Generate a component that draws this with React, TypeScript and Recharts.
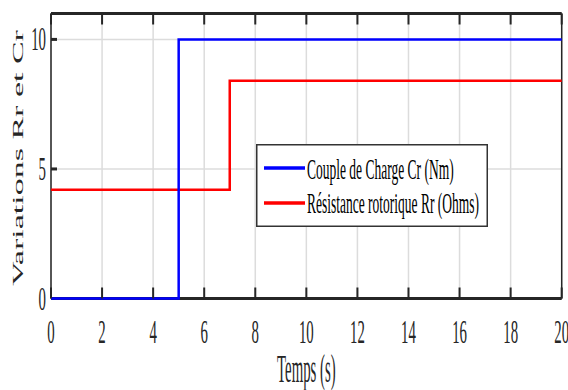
import { CartesianGrid, Legend, Line, LineChart, XAxis, YAxis } from 'recharts'

// step input signals (time in s)
const times = [0, 5, 7, 20]
const couple = [0, 10, 10, 10]
const resistance = [4.2, 4.2, 8.4, 8.4]

const xTicks = [0, 2, 4, 6, 8, 10, 12, 14, 16, 18, 20]
const yTicks = [0, 5, 10]

const series = [
  { key: 'cr', name: 'Couple de Charge Cr (Nm)', color: '#0000ff' },
  { key: 'rr', name: 'Résistance rotorique Rr (Ohms)', color: '#ff0000' },
]

const data = times.map((t, i) => ({ t, cr: couple[i], rr: resistance[i] }))

const FONT = '"Liberation Serif", "Times New Roman", serif'
const INK = '#262626'
const SX = 0.45 // the original figure is squeezed horizontally
const TICK_LEN = 11
const X_MARGIN = 33

// label below the axis + inward tick mark
function XTick({ x, y, payload }: any) {
  const axisY = y - X_MARGIN + TICK_LEN
  return (
    <g>
      <line x1={x} x2={x} y1={axisY} y2={axisY - TICK_LEN} stroke={INK} strokeWidth={2} />
      <text
        transform={`translate(${x},${y + 22}) scale(${SX},1)`}
        textAnchor="middle"
        fontSize={33}
        fontFamily={FONT}
        fill={INK}
      >
        {payload.value}
      </text>
    </g>
  )
}

// top box edge: only the inward tick mark
function TopTick({ x, y }: any) {
  return <line x1={x} x2={x} y1={y} y2={y - TICK_LEN} stroke={INK} strokeWidth={2} />
}

function YTick({ x, y, payload }: any) {
  return (
    <text
      transform={`translate(${x},${y + 11}) scale(${SX},1)`}
      textAnchor="end"
      fontSize={33}
      fontFamily={FONT}
      fill={INK}
    >
      {payload.value}
    </text>
  )
}

function XTitle({ viewBox }: any) {
  const cx = viewBox.x + viewBox.width / 2
  return (
    <text
      transform={`translate(${cx},382) scale(0.38,1)`}
      textAnchor="middle"
      fontSize={39}
      fontFamily={FONT}
      fill={INK}
    >
      Temps (s)
    </text>
  )
}

function YTitle() {
  return (
    <text
      transform={`translate(23,158) rotate(-90) scale(1,${SX})`}
      textAnchor="middle"
      fontSize={34}
      fontFamily={FONT}
      fill={INK}
    >
      Variations Rr et Cr
    </text>
  )
}

function LegendBox() {
  return (
    <svg width={232} height={83} style={{ display: 'block' }}>
      <rect x={0.75} y={0.75} width={230.5} height={81.5} fill="#fff" stroke="#333" strokeWidth={1.5} />
      {series.map((s, i) => (
        <g key={s.key}>
          <line x1={8} x2={49} y1={24 + i * 35} y2={24 + i * 35} stroke={s.color} strokeWidth={3.5} />
          <text
            transform={`translate(51,${35 + i * 34}) scale(${SX},1)`}
            fontSize={30}
            fontFamily={FONT}
            fill="#000"
          >
            {s.name}
          </text>
        </g>
      ))}
    </svg>
  )
}

export default function App() {
  return (
    <div style={{ position: 'absolute', left: 0, top: 0, width: 568, height: 390, background: '#fff' }}>
      <LineChart width={568} height={390} data={data} margin={{ top: 12.5, right: 5.3, bottom: 0, left: 0 }}>
        <CartesianGrid stroke="#dcdcdc" strokeWidth={1.5} />
        <XAxis
          dataKey="t"
          type="number"
          domain={[0, 20]}
          ticks={xTicks}
          interval={0}
          height={91.5}
          tickSize={-TICK_LEN}
          tickMargin={X_MARGIN}
          tick={<XTick />}
          tickLine={false}
          axisLine={{ stroke: INK, strokeWidth: 3 }}
          label={{ content: (p: any) => <XTitle {...p} /> }}
        />
        <XAxis
          xAxisId="top"
          orientation="top"
          dataKey="t"
          type="number"
          domain={[0, 20]}
          ticks={xTicks}
          interval={0}
          height={1}
          tickSize={-TICK_LEN}
          tickMargin={0}
          tick={<TopTick />}
          tickLine={false}
          axisLine={{ stroke: INK, strokeWidth: 3 }}
        />
        <YAxis
          type="number"
          domain={[0, 11]}
          ticks={yTicks}
          width={51}
          tickSize={-6}
          tickMargin={11}
          tick={<YTick />}
          axisLine={{ stroke: INK, strokeWidth: 1.5 }}
          tickLine={{ stroke: INK, strokeWidth: 3 }}
          label={{ content: () => <YTitle /> }}
        />
        <YAxis
          yAxisId="right"
          orientation="right"
          type="number"
          domain={[0, 11]}
          ticks={yTicks}
          width={1}
          tick={false}
          tickLine={false}
          axisLine={{ stroke: INK, strokeWidth: 1.5 }}
        />
        <Legend
          layout="horizontal"
          verticalAlign="middle"
          align="center"
          content={() => <LegendBox />}
          wrapperStyle={{ position: 'absolute', left: 256, top: 144, width: 232, height: 83 }}
        />
        <Line
          dataKey="rr"
          type="stepAfter"
          stroke="#ff0000"
          strokeWidth={2.5}
          dot={false}
          isAnimationActive={false}
          zIndex={600}
        />
        <Line
          dataKey="cr"
          type="stepAfter"
          stroke="#0000ff"
          strokeWidth={2.5}
          dot={false}
          isAnimationActive={false}
          zIndex={600}
        />
      </LineChart>
    </div>
  )
}
